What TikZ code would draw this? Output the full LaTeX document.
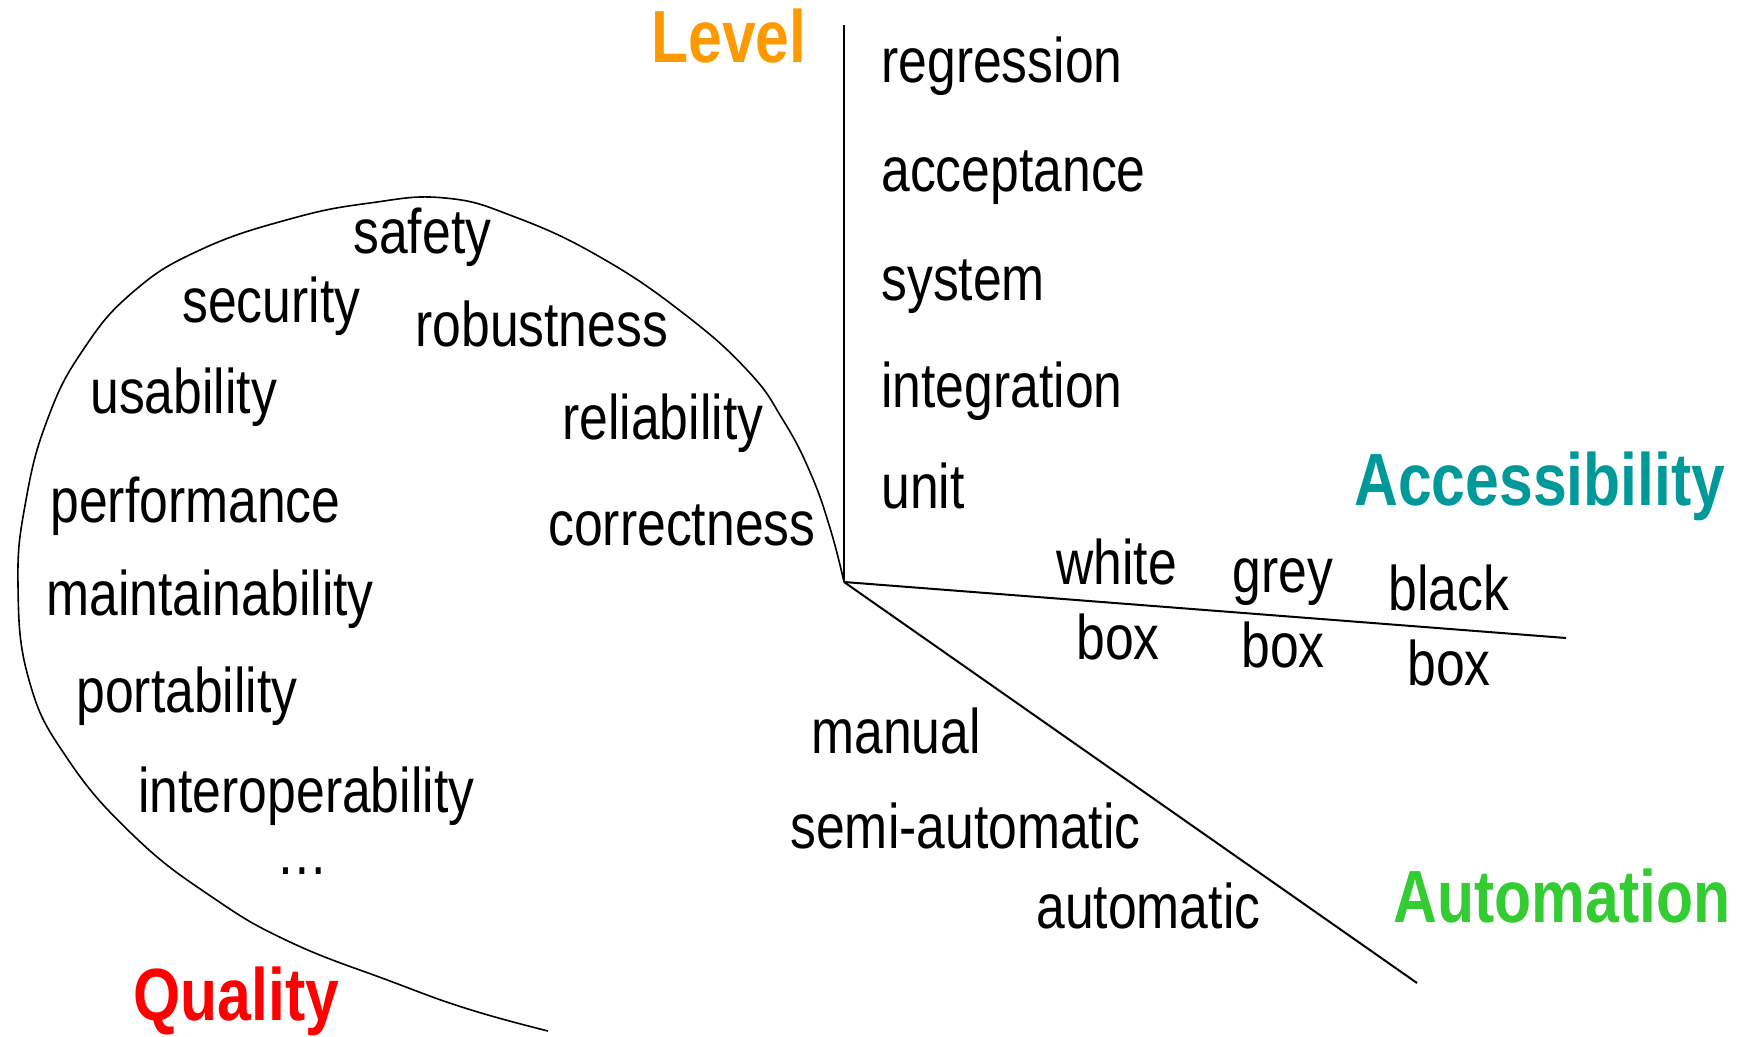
\documentclass[tikz,border=0pt]{standalone}
\usepackage{fontspec}
\setmainfont{Liberation Sans}[FakeStretch=0.82]
\definecolor{levelc}{HTML}{FF9900}
\definecolor{accessc}{HTML}{009999}
\definecolor{autoc}{HTML}{33CC33}
\definecolor{qualc}{HTML}{FF0000}
\begin{document}
\begin{tikzpicture}[x=0.5pt,y=-0.5pt,
  item/.style={anchor=base west,inner sep=0pt,font=\fontsize{31.5}{36}\selectfont},
  dimname/.style={anchor=base west,inner sep=0pt,font=\fontsize{37}{42}\selectfont\bfseries},
  axis/.style={line width=1pt},
  border/.style={line width=0.8pt}]
\useasboundingbox (0,0) rectangle (1748,1037);

% axes meeting at the origin
\coordinate (O) at (844,582);
\coordinate (levelEnd) at (844,25);
\coordinate (accessEnd) at (1566,638);
\coordinate (autoEnd) at (1417,983);
\draw[axis] (O) -- (levelEnd);
\draw[axis] (O) -- (accessEnd);
\draw[axis] (O) -- (autoEnd);

% open boundary of the quality region
\coordinate (qualEnd) at (548,1031);
\draw[border] plot[smooth,tension=0.75] coordinates {
  (844,582) (830,528) (810,472) (783,420) (748,371) (683,313) (600,257)
  (515,217) (445,198) (370,203) (290,219) (200,250) (133,292) (83,350)
  (48,418) (26,500) (18,585) (29,680) (67,758) (134,836) (212,897)
  (290,942) (390,981) (468,1009) (548,1031)};

% dimension names
\node[dimname,text=levelc] (level) at (651,63) {Level};
\node[dimname,text=accessc] (access) at (1354,505) {Accessibility};
\node[dimname,text=autoc] (auto) at (1393,922) {Automation};
\node[dimname,text=qualc] (qual) at (133,1020) {Quality};

% level
\node[item] (regression) at (881,83) {regression};
\node[item] (acceptance) at (881,192) {acceptance};
\node[item] (system) at (881,300) {system};
\node[item] (integration) at (881,407) {integration};
\node[item] (unit) at (881,508) {unit};

% accessibility
\node[item] (white) at (1056,584) {white};
\node[item] (whitebox) at (1076,659) {box};
\node[item] (grey) at (1232,592) {grey};
\node[item] (greybox) at (1241,667) {box};
\node[item] (black) at (1388,610) {black};
\node[item] (blackbox) at (1407,685) {box};

% automation
\node[item] (manual) at (811,753) {manual};
\node[item] (semi) at (790,848) {semi-automatic};
\node[item] (automatic) at (1036,928) {automatic};

% quality
\node[item] (safety) at (353,254) {safety};
\node[item] (security) at (182,322) {security};
\node[item] (robustness) at (415,346) {robustness};
\node[item] (usability) at (90,413) {usability};
\node[item] (reliability) at (562,439) {reliability};
\node[item] (performance) at (50,522) {performance};
\node[item] (correctness) at (548,545) {correctness};
\node[item] (maintainability) at (46,615) {maintainability};
\node[item] (portability) at (76,712) {portability};
\node[item] (interop) at (138,812) {interoperability};
\node[item] (more) at (276,874) {\dots};
\end{tikzpicture}
\end{document}
